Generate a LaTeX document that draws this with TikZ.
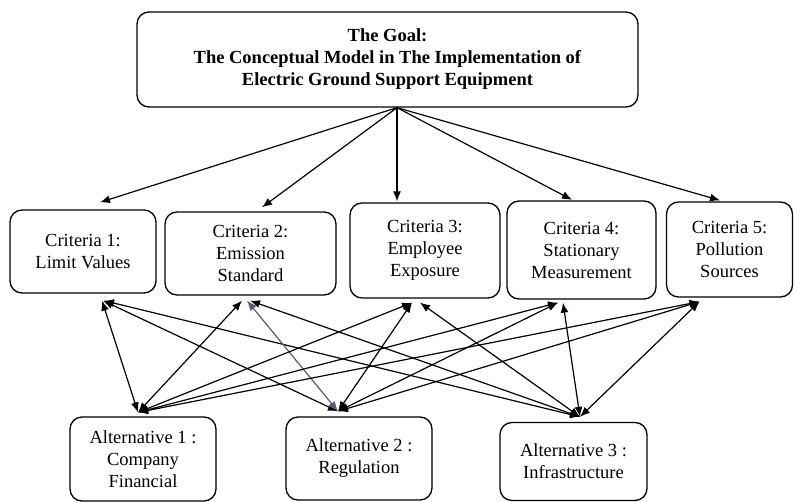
\documentclass[tikz,border=0pt]{standalone}
\usepackage{fontspec}
\setmainfont{Liberation Serif}
\usetikzlibrary{arrows.meta}
\definecolor{linkgray}{RGB}{90,90,110}

\begin{document}
\begin{tikzpicture}[x=1pt,y=-1pt,
		box/.style={draw, line width=1.3pt, rounded corners=12pt, align=center, inner sep=0pt,
			font=\fontsize{18.5}{22}\selectfont},
		link/.style={line width=1.2pt, {Latex[length=10pt,width=8pt]}-{Latex[length=10pt,width=8pt]}},
		down/.style={line width=1.2pt, -{Latex[length=10pt,width=8pt]}}]
		\useasboundingbox (0,0) rectangle (794,502);

		% goal
		\node[box, minimum width=501pt, minimum height=95pt] (goal) at (387.5,59.5)
			{\textbf{The Goal:}\\ \textbf{The Conceptual Model in The Implementation of}\\ \textbf{Electric Ground Support Equipment}};

		% criteria
		\node[box, minimum width=146pt, minimum height=83pt] (c1) at (83,251.5) {Criteria 1:\\ Limit Values};
		\node[box, minimum width=171pt, minimum height=83pt] (c2) at (250.5,253.5) {Criteria 2:\\ Emission\\ Standard};
		\node[box, minimum width=150pt, minimum height=95pt] (c3) at (425,250.5) {Criteria 3:\\ Employee\\ Exposure};
		\node[box, minimum width=149pt, minimum height=98pt] (c4) at (581.5,250) {Criteria 4:\\ Stationary\\ Measurement};
		\node[box, minimum width=126pt, minimum height=95pt] (c5) at (729.5,249.5) {Criteria 5:\\ Pollution\\ Sources};

		% alternatives
		\node[box, minimum width=146pt, minimum height=84pt] (a1) at (143,459) {Alternative 1 :\\ Company\\ Financial};
		\node[box, minimum width=146pt, minimum height=83pt] (a2) at (359,458.5) {Alternative 2 :\\ Regulation};
		\node[box, minimum width=147pt, minimum height=78pt] (a3) at (573.5,461.5) {Alternative 3 :\\ Infrastructure};

		% goal to criteria
		\draw[down] ([xshift=9.5pt]goal.south) -- ([xshift=17pt,yshift=7pt]c1.north);
		\draw[down] ([xshift=9.5pt]goal.south) -- ([xshift=11.5pt,yshift=4pt]c2.north);
		\draw[down] ([xshift=9.5pt]goal.south) -- ([xshift=-28pt,yshift=1pt]c3.north);
		\draw[down] ([xshift=9.5pt]goal.south) -- ([xshift=-9.5pt,yshift=0.5pt]c4.north);
		\draw[down] ([xshift=9.5pt]goal.south) -- ([xshift=-9.5pt,yshift=1pt]c5.north);

		% criteria to alternatives
		\draw[link] ([xshift=19pt,yshift=-7pt]c1.south) -- ([xshift=-5pt,yshift=4pt]a1.north);
		\draw[link] ([xshift=20pt,yshift=-7pt]c1.south) -- ([xshift=-21pt,yshift=5pt]a2.north);
		\draw[link] ([xshift=21pt,yshift=-7pt]c1.south) -- ([xshift=6.5pt,yshift=5pt]a3.north);

		\draw[link] ([xshift=-8.5pt,yshift=-5pt]c2.south) -- ([xshift=-5pt,yshift=4pt]a1.north);
		\draw[link, linkgray] ([xshift=-3.5pt,yshift=-5pt]c2.south) -- ([xshift=-21pt,yshift=5pt]a2.north);
		\draw[link] ([xshift=-0.5pt,yshift=-5pt]c2.south) -- ([xshift=6.5pt,yshift=5pt]a3.north);

		\draw[link] ([xshift=-13pt,yshift=-4pt]c3.south) -- ([xshift=-5pt,yshift=4pt]a1.north);
		\draw[link] ([xshift=-13pt,yshift=-4pt]c3.south) -- ([xshift=-21pt,yshift=5pt]a2.north);
		\draw[link] ([xshift=-5pt,yshift=-4pt]c3.south) -- ([xshift=6.5pt,yshift=5pt]a3.north);

		\draw[link] ([xshift=-23.5pt,yshift=-3pt]c4.south) -- ([xshift=-5pt,yshift=4pt]a1.north);
		\draw[link] ([xshift=-23.5pt,yshift=-3pt]c4.south) -- ([xshift=-21pt,yshift=5pt]a2.north);
		\draw[link] ([xshift=-18.5pt,yshift=-3pt]c4.south) -- ([xshift=6.5pt,yshift=5pt]a3.north);

		\draw[link] ([xshift=-30pt,yshift=-4pt]c5.south) -- ([xshift=-5pt,yshift=4pt]a1.north);
		\draw[link] ([xshift=-30pt,yshift=-4pt]c5.south) -- ([xshift=-21pt,yshift=5pt]a2.north);
		\draw[link] ([xshift=-30pt,yshift=-4pt]c5.south) -- ([xshift=6.5pt,yshift=5pt]a3.north);

	\end{tikzpicture}
\end{document}
